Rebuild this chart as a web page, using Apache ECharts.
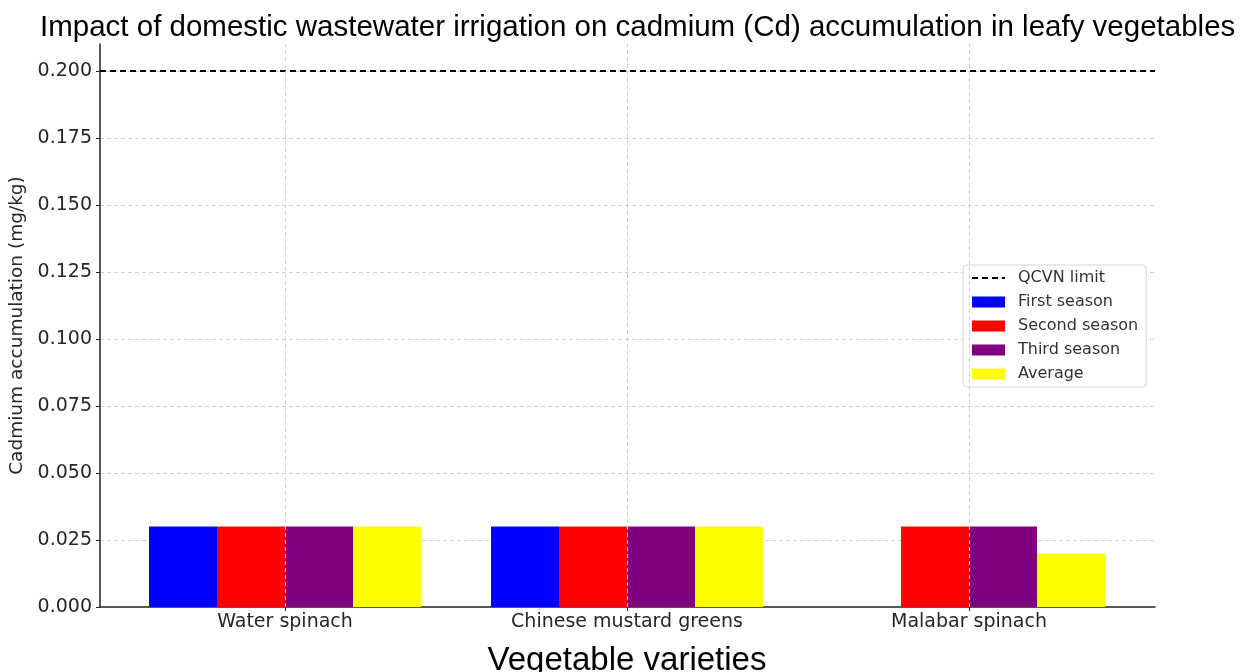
<!DOCTYPE html>
<html>
<head>
<meta charset="utf-8">
<script src="https://cdn.jsdelivr.net/npm/echarts@6/dist/echarts.min.js"></script>
<style>
html, body { margin: 0; padding: 0; background: #fff; }
#main { width: 1246px; height: 672px; }
</style>
</head>
<body>
<div id="main"></div>
<script>
// data
var vegetables = ['Water spinach', 'Chinese mustard greens', 'Malabar spinach'];
var firstSeason = [0.03, 0.03, null];
var secondSeason = [0.03, 0.03, 0.03];
var thirdSeason = [0.03, 0.03, 0.03];
var average = [0.03, 0.03, 0.02];
var qcvnLimit = 0.2;
var seasonNames = ['First season', 'Second season', 'Third season', 'Average'];
var seasonColors = ['#0000ff', '#ff0000', '#800080', '#ffff00'];
var seasonData = [firstSeason, secondSeason, thirdSeason, average];

var tickFont = 'DejaVu Sans';
var chart = echarts.init(document.getElementById('main'));

var gridLine = { color: '#d0d0d0', width: 1, type: [4, 3] };

var barSeries = seasonNames.map(function (name, i) {
    return {
        name: name,
        type: 'bar',
        xAxisIndex: 1,
        yAxisIndex: 1,
        data: seasonData[i],
        barWidth: 68,
        barGap: '0%',
        itemStyle: { color: seasonColors[i] },
        z: 3
    };
});

var option = {
    animation: false,
    backgroundColor: '#fff',
    title: {
        text: 'Impact of domestic wastewater irrigation on cadmium (Cd) accumulation in leafy vegetables',
        left: 35,
        top: 8,
        textStyle: { fontFamily: 'Liberation Sans', fontSize: 29.5, fontWeight: 'normal', color: '#000' }
    },
    legend: {
        orient: 'vertical',
        left: 963,
        top: 265,
        padding: [5, 8, 5, 8],
        itemWidth: 33,
        itemHeight: 11,
        itemGap: 8,
        borderColor: '#d5d5d5',
        borderWidth: 1,
        borderRadius: 4,
        backgroundColor: '#fff',
        textStyle: { fontFamily: tickFont, fontSize: 16, color: '#333', padding: [0, 0, 0, 8] },
        data: [{ name: 'QCVN limit', itemStyle: { opacity: 0 } }]
            .concat(seasonNames.map(function (n) { return { name: n, icon: 'rect' }; }))
    },
    grid: [
        { left: 100, right: 91, top: 44, bottom: 65, outerBoundsMode: 'none' },
        { left: 114, right: 106, top: 44, bottom: 65, outerBoundsMode: 'none' }
    ],
    xAxis: [
        {
            type: 'value', gridIndex: 0, min: 0, max: 1,
            axisLine: { show: true, lineStyle: { color: '#222', width: 1.5 } },
            axisTick: { show: false }, axisLabel: { show: false }, splitLine: { show: false }
        },
        {
            type: 'category', gridIndex: 1, data: vegetables,
            name: 'Vegetable varieties',
            nameLocation: 'middle',
            nameGap: 37,
            nameTextStyle: { fontFamily: 'Liberation Sans', fontSize: 33, color: '#000' },
            axisLine: { show: false },
            axisTick: { show: true, alignWithLabel: true, length: 4, lineStyle: { color: '#222' } },
            axisLabel: { fontFamily: tickFont, fontSize: 19, color: '#262626', margin: 6 },
            splitLine: { show: false }
        }
    ],
    yAxis: [
        {
            type: 'value', gridIndex: 0, min: 0, max: 0.21, interval: 0.025,
            name: 'Cadmium accumulation (mg/kg)',
            nameLocation: 'middle',
            nameGap: 68,
            nameTextStyle: { fontFamily: tickFont, fontSize: 18.5, color: '#262626' },
            axisLine: { show: true, lineStyle: { color: '#222', width: 1.5 } },
            axisTick: { show: true, length: 4, lineStyle: { color: '#222' } },
            axisLabel: { fontFamily: tickFont, fontSize: 19, color: '#262626', margin: 8, showMaxLabel: false,
                formatter: function (v) { return v.toFixed(3); } },
            splitLine: { show: true, showMaxLine: false, showMinLine: false, lineStyle: gridLine }
        },
        {
            type: 'value', gridIndex: 1, min: 0, max: 0.21, interval: 0.025,
            axisLine: { show: false }, axisTick: { show: false }, axisLabel: { show: false }, splitLine: { show: false }
        }
    ],
    series: [
        {
            name: 'QCVN limit',
            type: 'line',
            xAxisIndex: 0,
            yAxisIndex: 0,
            data: [],
            symbol: 'none',
            itemStyle: { color: '#000' },
            lineStyle: { color: '#000', width: 2, type: [6, 4] },
            markLine: {
                silent: true,
                symbol: 'none',
                label: { show: false },
                lineStyle: { color: '#000', width: 2, type: [6, 4] },
                data: [{ yAxis: qcvnLimit }]
            },
            z: 5
        },
        {
            // vertical grid lines at the category centres
            name: 'xgrid',
            type: 'line',
            xAxisIndex: 1,
            yAxisIndex: 1,
            data: [],
            symbol: 'none',
            markLine: {
                silent: true,
                symbol: 'none',
                label: { show: false },
                lineStyle: gridLine,
                data: vegetables.map(function (v) { return { xAxis: v }; })
            },
            z: 1
        }
    ].concat(barSeries)
};

chart.setOption(option);
</script>
</body>
</html>
